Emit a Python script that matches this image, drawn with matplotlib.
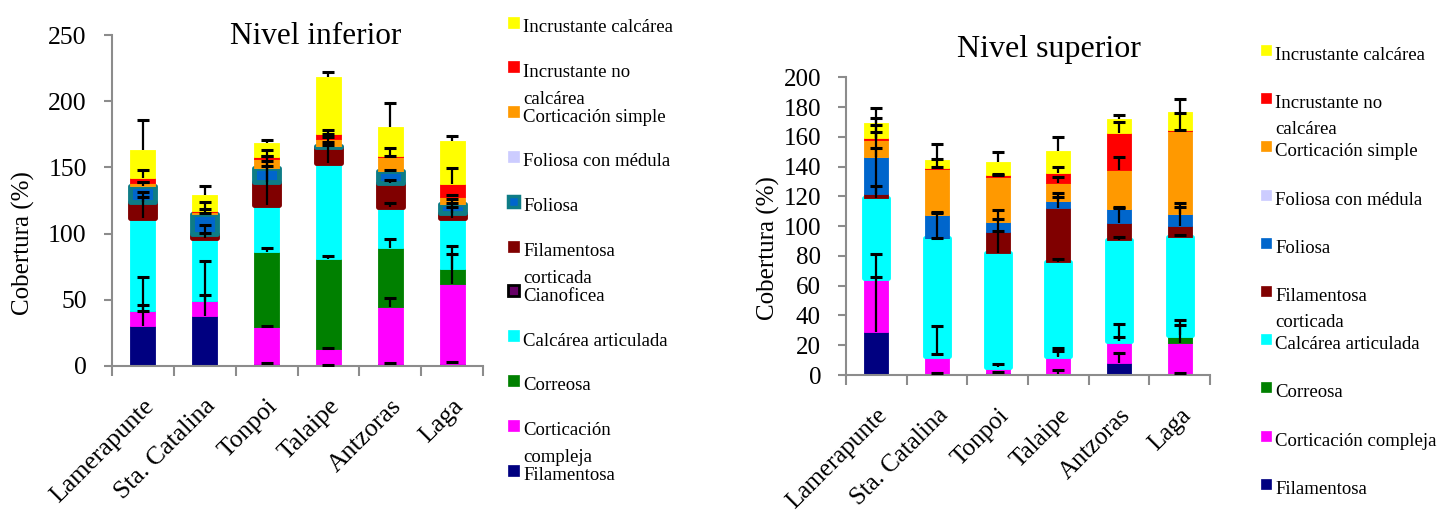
import matplotlib

matplotlib.use("Agg")
import matplotlib.pyplot as plt
import numpy as np
from matplotlib.patches import Rectangle

plt.rcParams["font.family"] = ["Liberation Serif", "DejaVu Serif"]

W, H = 1445, 515

SITES = ["Lamerapunte", "Sta. Catalina", "Tonpoi", "Talaipe", "Antzoras", "Laga"]

# Nivel inferior: cover (%) per group, stacked bottom -> top, and +error
inf_fil = [30, 37.8, 1.5, 0.5, 1.5, 1.3]
inf_cc = [11.5, 11.3, 28.2, 12.1, 42.8, 60.4]
inf_corr = [0, 0, 56.4, 68.5, 44.6, 11.6]
inf_calc = [70, 47.3, 35.5, 72.5, 31.4, 38.7]
inf_cian = [0, 0, 0, 0, 0, 0]
inf_filc = [12, 3.3, 17.6, 11.6, 17.7, 3.3]
inf_fol = [12.5, 15, 10, 1.2, 9.3, 7.1]
inf_folm = [0, 0, 0, 0, 0, 0]
inf_corts = [2, 1.8, 6.8, 5.1, 10.3, 5.5]
inf_incn = [4, 0.7, 1.5, 3.5, 1, 9.3]
inf_incc = [21, 11.9, 10.6, 43, 22.2, 33]

inf_fil_e = [16, 16, 0.5, 0.3, 0.5, 2]
inf_cc_e = [26, 30, 0.5, 1.2, 7.3, 23]
inf_corr_e = [0.3, 0, 3.3, 2, 7, 17.3]
inf_calc_e = [16, 4, 37, 25, 3, 8]
inf_cian_e = [0, 0, 0, 0, 0, 0]
inf_filc_e = [8, 7, 12, 4, 2.5, 7.6]
inf_fol_e = [3, 1, 6, 0.8, 0.5, 3.5]
inf_folm_e = [0, 0, 0, 0, 0, 0]
inf_corts_e = [1, 2, 7, 1.7, 1, 1.3]
inf_incn_e = [6, 6.7, 1, 0.5, 6.3, 12.6]
inf_incc_e = [23, 7, 2.5, 4, 18, 3.5]

# Nivel superior (no Cianoficea)
sup_fil = [29.1, 0.7, 1.1, 0.7, 8.3, 0.7]
sup_cc = [36.3, 12.1, 4.5, 11.6, 14.8, 20.6]
sup_corr = [0, 0, 0, 0.5, 0, 5.4]
sup_calc = [53.3, 79, 76.1, 62.9, 67.6, 66.3]
sup_filc = [2.9, 0.5, 14.6, 36.7, 11.7, 7.3]
sup_fol = [24.6, 15.2, 6.3, 4.5, 8.9, 7.7]
sup_folm = [0, 0, 0, 0, 0, 0]
sup_corts = [11.7, 30.9, 30.7, 12.3, 26.4, 56.2]
sup_incn = [1.6, 0.9, 0.9, 6.3, 25.1, 0.4]
sup_incc = [9.6, 5.2, 8.7, 15.2, 9, 12.3]

sup_fil_e = [37, 0.5, 1, 2.7, 6.3, 0.5]
sup_cc_e = [16, 20, 2, 5.6, 11.2, 12.3]
sup_corr_e = [0, 1, 0, 3, 2.7, 10.3]
sup_calc_e = [8, 0.5, 15, 2, 2.2, 1]
sup_filc_e = [31, 17, 14.6, 9.6, 10.7, 12.8]
sup_fol_e = [22, 1.5, 2.5, 3, 1, 7.3]
sup_folm_e = [0, 0, 0, 0, 0, 0]
sup_corts_e = [15, 1.5, 1, 4, 9, 0.5]
sup_incn_e = [4, 6, 1, 4, 7.4, 11.7]
sup_incc_e = [10, 10.7, 7, 9.4, 3, 8.3]

FACE = {
    "Filamentosa": "#000080",
    "Corticación compleja": "#FF00FF",
    "Correosa": "#008000",
    "Calcárea articulada": "#00FFFF",
    "Cianoficea": "#660066",
    "Filamentosa corticada": "#800000",
    "Foliosa": "#0066CC",
    "Foliosa con médula": "#CCCCFF",
    "Corticación simple": "#FF9900",
    "Incrustante no calcárea": "#FF0000",
    "Incrustante calcárea": "#FFFF00",
}
TEAL = "#0E7C86"


def fig_rect(x0, y0, x1, y1):
    return [x0 / W, 1 - y1 / H, (x1 - x0) / W, (y1 - y0) / H]


def draw_stack(ax, stack, thick, edge_override=None):
    x = np.arange(len(SITES))
    bottom = np.zeros(len(SITES))
    tops = []
    for name, vals, errs in stack:
        vals = np.array(vals, dtype=float)
        face = FACE[name]
        edge = (edge_override or {}).get(name, face)
        lw = 3.5 if name in thick else 0.6
        ax.bar(x, vals, 0.4, bottom=bottom, color=face, edgecolor=edge,
               linewidth=lw, joinstyle="round", zorder=2)
        bottom = bottom + vals
        tops.append((bottom.copy(), np.array(errs, dtype=float)))
    for top, errs in tops:
        m = errs > 0
        ax.errorbar(x[m], top[m], yerr=[np.zeros(m.sum()), errs[m]], fmt="none",
                    ecolor="black", elinewidth=1.6, capsize=0, zorder=4)
        ax.plot(x[m], top[m] + errs[m], ls="none", marker="_", ms=9, mew=2.2,
                color="black", zorder=4)


def style_axes(ax, ymax, ystep, tick_size, label_size, ypad, xpad):
    ax.set_xlim(-0.5, len(SITES) - 0.5)
    ax.set_ylim(0, ymax)
    ax.set_yticks(np.arange(0, ymax + 1, ystep))
    for side in ("top", "right"):
        ax.spines[side].set_visible(False)
    for side in ("left", "bottom"):
        ax.spines[side].set_color("#8c8c8c")
        ax.spines[side].set_linewidth(1.5)
    ax.set_xticks(np.arange(len(SITES)))
    ax.set_xticks(np.arange(-0.5, len(SITES)), minor=True)
    ax.set_xticklabels(SITES, rotation=45, ha="right", va="top",
                       rotation_mode="anchor", fontsize=label_size)
    ax.tick_params(axis="x", which="major", length=0, pad=xpad)
    ax.tick_params(axis="x", which="minor", length=7, width=1.5, color="#8c8c8c",
                   direction="out")
    ax.tick_params(axis="y", length=6, width=1.5, color="#8c8c8c", pad=ypad,
                   labelsize=tick_size)


def draw_legend(fig, entries, x_mark, x_text, y0, step, size, line_gap, fontsize):
    for i, (lines, edge, lw) in enumerate(entries):
        yc = y0 + i * step
        face = FACE[" ".join(lines)] if " ".join(lines) in FACE else FACE[lines[0]]
        fig.patches.append(Rectangle((x_mark / W, 1 - (yc + size / 2) / H),
                                     size / W, size / H, facecolor=face,
                                     edgecolor=edge or face, linewidth=lw,
                                     transform=fig.transFigure, figure=fig))
        for j, line in enumerate(lines):
            fig.text(x_text / W, 1 - (yc + 10 + j * line_gap) / H, line,
                     fontsize=fontsize, va="baseline", ha="left")


fig = plt.figure(figsize=(W / 100, H / 100), dpi=100)

# ---- Nivel inferior
ax1 = fig.add_axes(fig_rect(111.7, 35, 483.3, 366))
inf_stack = [
    ("Filamentosa", inf_fil, inf_fil_e),
    ("Corticación compleja", inf_cc, inf_cc_e),
    ("Correosa", inf_corr, inf_corr_e),
    ("Calcárea articulada", inf_calc, inf_calc_e),
    ("Cianoficea", inf_cian, inf_cian_e),
    ("Filamentosa corticada", inf_filc, inf_filc_e),
    ("Foliosa", inf_fol, inf_fol_e),
    ("Foliosa con médula", inf_folm, inf_folm_e),
    ("Corticación simple", inf_corts, inf_corts_e),
    ("Incrustante no calcárea", inf_incn, inf_incn_e),
    ("Incrustante calcárea", inf_incc, inf_incc_e),
]
draw_stack(ax1, inf_stack, thick={"Filamentosa corticada", "Foliosa"},
           edge_override={"Foliosa": TEAL})
style_axes(ax1, 250, 50, 18.5, 18.5, 12, 21)

# ---- Nivel superior
ax2 = fig.add_axes(fig_rect(846, 77.3, 1210, 375))
sup_stack = [
    ("Filamentosa", sup_fil, sup_fil_e),
    ("Corticación compleja", sup_cc, sup_cc_e),
    ("Correosa", sup_corr, sup_corr_e),
    ("Calcárea articulada", sup_calc, sup_calc_e),
    ("Filamentosa corticada", sup_filc, sup_filc_e),
    ("Foliosa", sup_fol, sup_fol_e),
    ("Foliosa con médula", sup_folm, sup_folm_e),
    ("Corticación simple", sup_corts, sup_corts_e),
    ("Incrustante no calcárea", sup_incn, sup_incn_e),
    ("Incrustante calcárea", sup_incc, sup_incc_e),
]
draw_stack(ax2, sup_stack, thick={"Calcárea articulada"})
style_axes(ax2, 200, 20, 18, 18, 12, 21)

fig.text(316 / W, 1 - 37 / H, "Nivel inferior", fontsize=22.5, ha="center", va="center")
fig.text(1049 / W, 1 - 49 / H, "Nivel superior", fontsize=23, ha="center", va="center")
fig.text(23 / W, 1 - 243 / H, "Cobertura (%)", fontsize=18, rotation=90,
         ha="center", va="center")
fig.text(768 / W, 1 - 248 / H, "Cobertura (%)", fontsize=18, rotation=90,
         ha="center", va="center")

inf_legend = [
    (["Incrustante calcárea"], None, 0.5),
    (["Incrustante no", "calcárea"], None, 0.5),
    (["Corticación simple"], None, 0.5),
    (["Foliosa con médula"], None, 0.5),
    (["Foliosa"], TEAL, 2.5),
    (["Filamentosa", "corticada"], None, 0.5),
    (["Cianoficea"], "black", 2.0),
    (["Calcárea articulada"], None, 0.5),
    (["Correosa"], None, 0.5),
    (["Corticación", "compleja"], None, 0.5),
    (["Filamentosa"], None, 0.5),
]
draw_legend(fig, inf_legend, 508, 523, 22, 44.8, 11, 27, 13.5)

sup_legend = [
    (["Incrustante calcárea"], None, 0.5),
    (["Incrustante no", "calcárea"], None, 0.5),
    (["Corticación simple"], None, 0.5),
    (["Foliosa con médula"], None, 0.5),
    (["Foliosa"], None, 0.5),
    (["Filamentosa", "corticada"], None, 0.5),
    (["Calcárea articulada"], None, 0.5),
    (["Correosa"], None, 0.5),
    (["Corticación compleja"], None, 0.5),
    (["Filamentosa"], None, 0.5),
]
draw_legend(fig, sup_legend, 1261, 1275, 50, 48.2, 10, 26, 13.5)

fig.savefig("out.png", dpi=100)
plt.close(fig)
